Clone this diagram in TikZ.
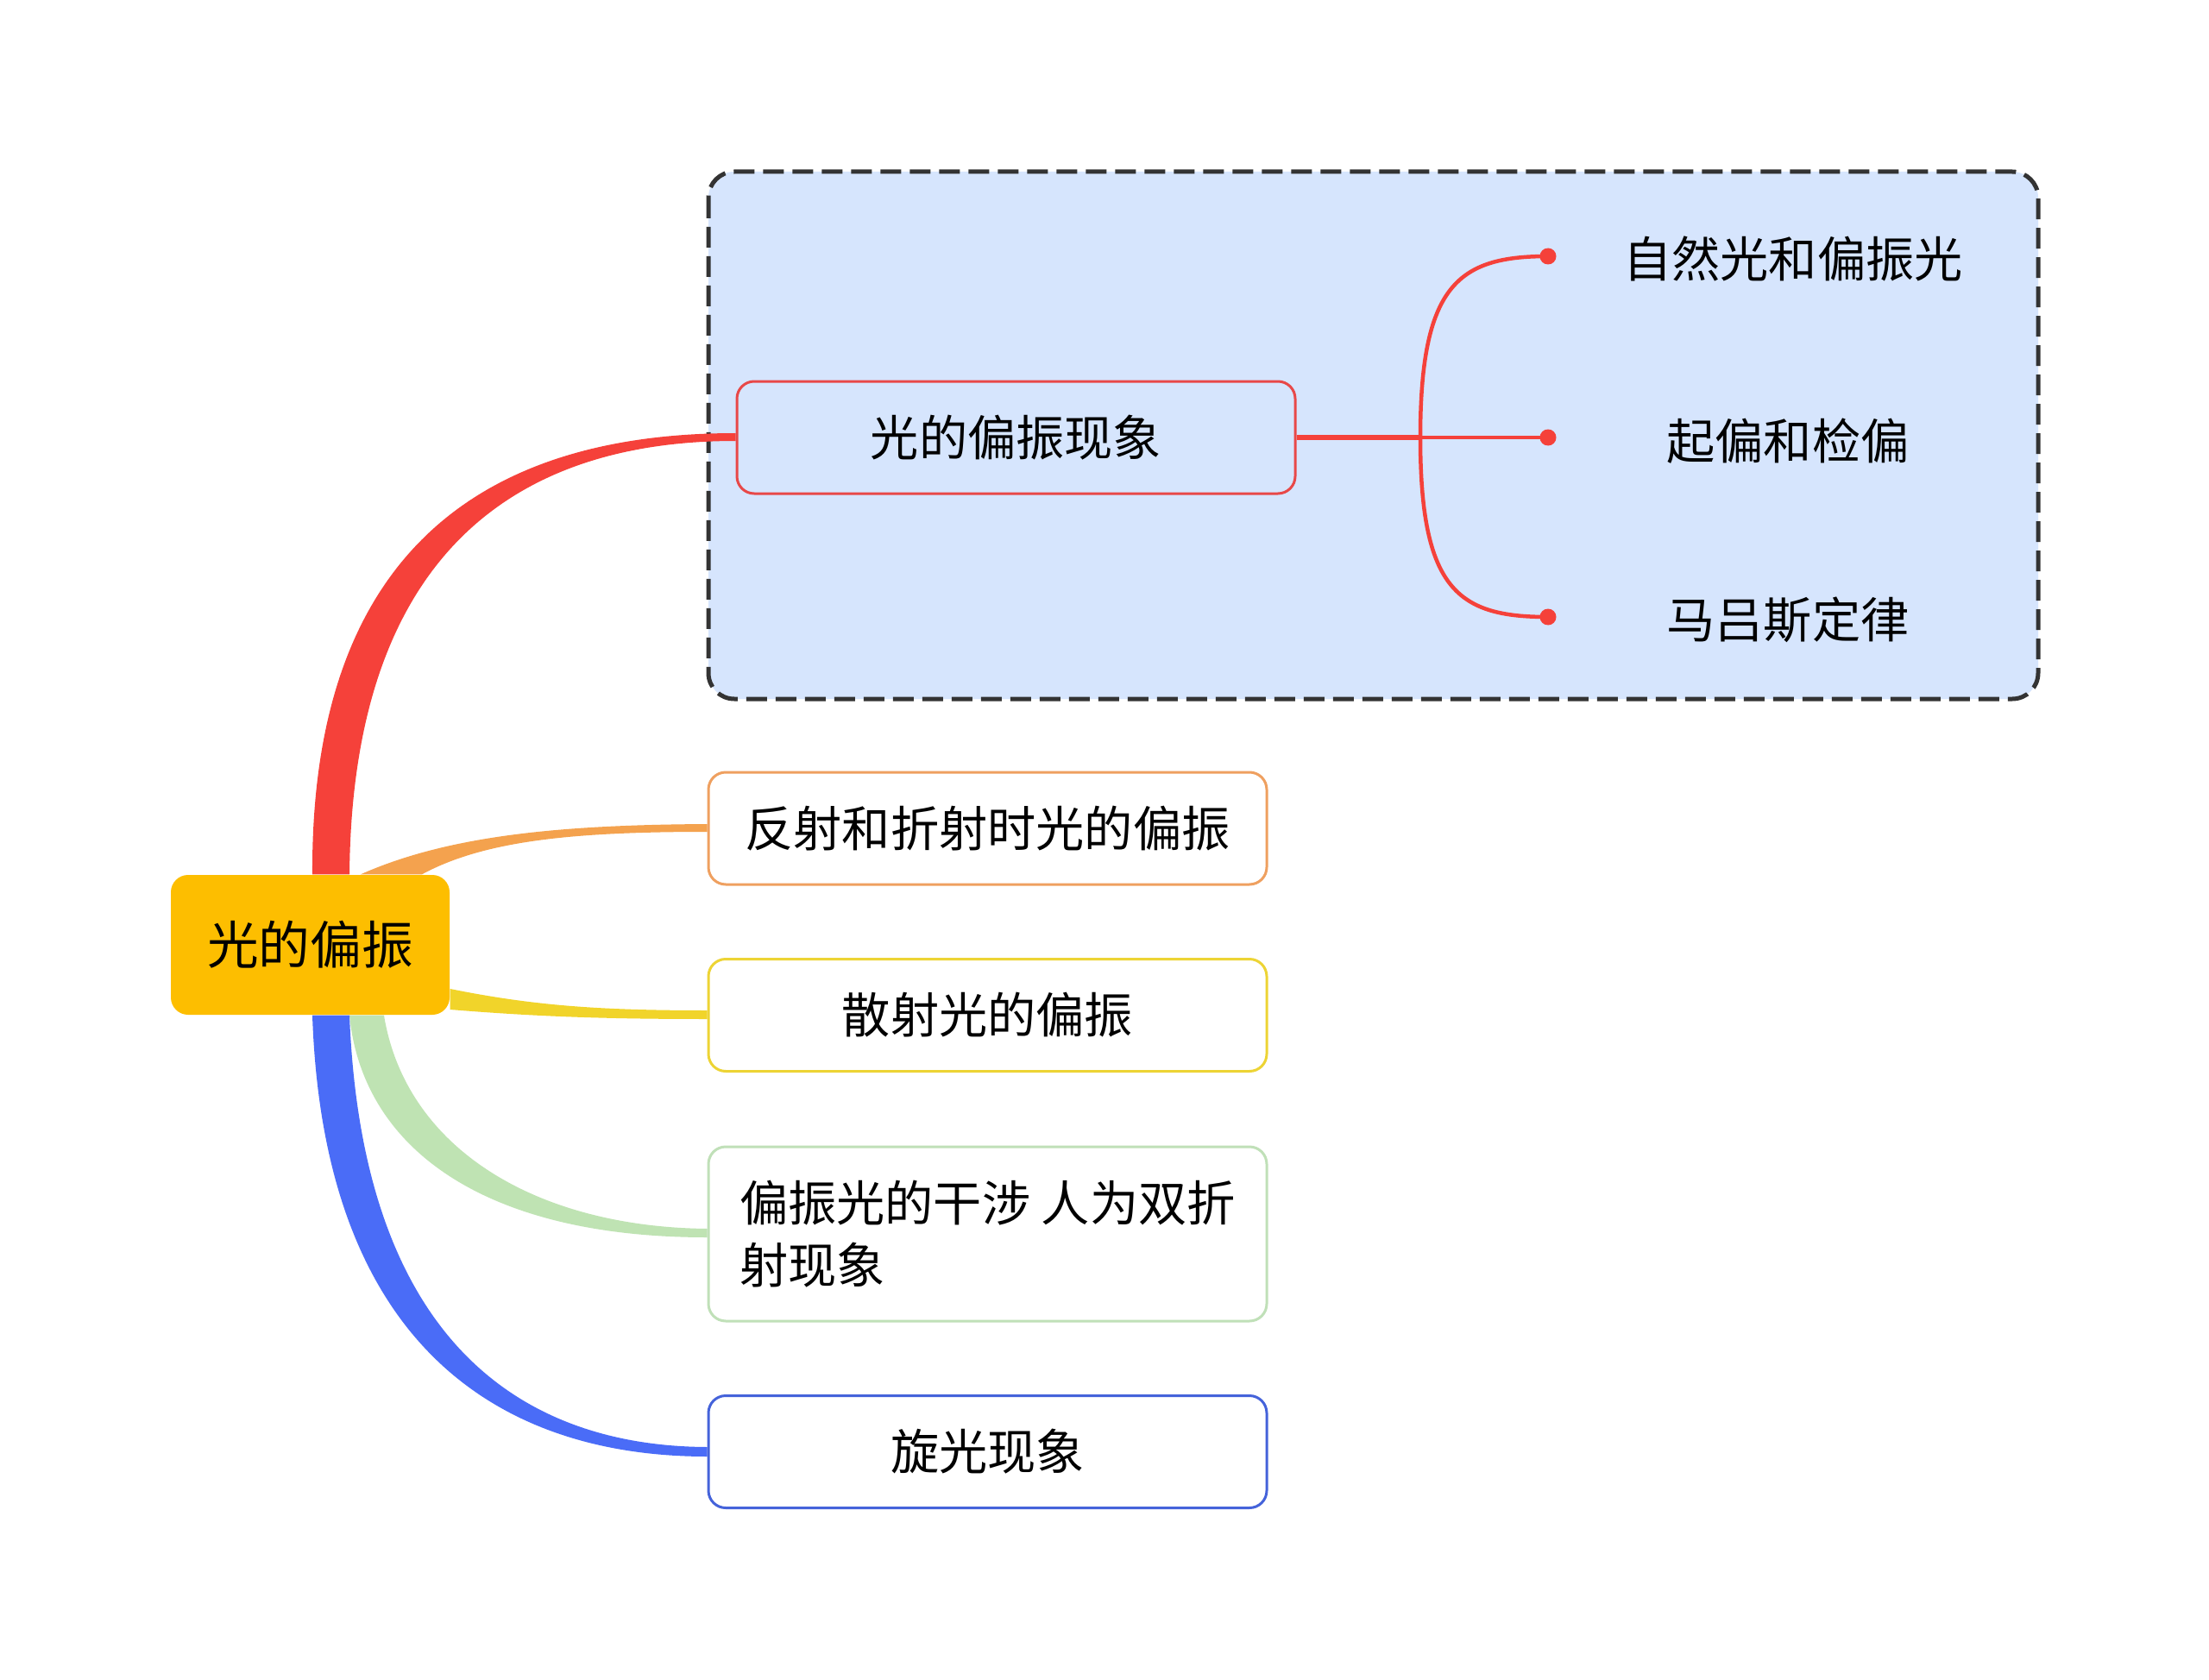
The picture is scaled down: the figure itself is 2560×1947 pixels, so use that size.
\documentclass[tikz,border=0pt]{standalone}
\usepackage{fontspec}
\newfontfamily\cjk{Noto Sans CJK SC}
\pgfdeclarelayer{back}
\pgfdeclarelayer{bg}
\pgfsetlayers{back,bg,main}
\definecolor{cRoot}{HTML}{FDBE00}
\definecolor{cGroup}{HTML}{D6E5FD}
\definecolor{cFrame}{HTML}{333333}
\definecolor{cRed}{HTML}{F5413A}
\definecolor{cRedB}{HTML}{E84848}
\definecolor{cOrange}{HTML}{F4A24E}
\definecolor{cOrangeB}{HTML}{EFA060}
\definecolor{cYellow}{HTML}{F1D42A}
\definecolor{cYellowB}{HTML}{EDD435}
\definecolor{cGreen}{HTML}{BFE3B3}
\definecolor{cGreenB}{HTML}{C0E0B8}
\definecolor{cBlue}{HTML}{4A6CF7}
\definecolor{cBlueB}{HTML}{4563DA}
\begin{document}
\begin{tikzpicture}[x=0.1mm,y=-0.1mm,
  root/.style={fill=cRoot, rounded corners=2mm, minimum width=32.3mm, minimum height=16.2mm, inner sep=0pt, font=\cjk\fontsize{17}{20}\selectfont},
  kid/.style={draw, line width=0.3mm, fill=white, rounded corners=2mm, minimum width=64.7mm, minimum height=13mm, inner sep=0pt, font=\cjk\fontsize{16}{20.7}\selectfont},
  leaf/.style={inner sep=0pt, font=\cjk\fontsize{16}{20}\selectfont},
  dot/.style={circle, fill=cRed, inner sep=0pt, minimum size=1.9mm},
  subline/.style={draw=cRed, line width=0.45mm},
  groupbox/.style={draw=cFrame, fill=cGroup, line width=0.5mm, dash pattern=on 2.4mm off 1mm, rounded corners=3mm}
]
\useasboundingbox (0,0) rectangle (2560,1947);

% page background and group frame
\begin{pgfonlayer}{back}
\fill[white] (0,0) rectangle (2560,1947);
\draw[groupbox] (821,199) rectangle (2362,810);
\end{pgfonlayer}

% nodes
\node[root] (c) at (359.5,1095) {光的偏振};
\node[kid, draw=cRedB, fill=cGroup] (p1) at (1177.5,507) {光的偏振现象};
\node[kid, draw=cOrangeB] (p2) at (1144.5,960) {反射和折射时光的偏振};
\node[kid, draw=cYellowB] (p3) at (1144.5,1176.5) {散射光的偏振};
\node[kid, draw=cGreenB, minimum height=20.2mm, align=left] (p4) at (1144.5,1430) {偏振光的干涉 人为双折\\射现象};
\node[kid, draw=cBlueB] (p5) at (1144.5,1682.5) {旋光现象};

\node[leaf] (q1) at (2078,300) {自然光和偏振光};
\node[leaf] (q2) at (2072,511) {起偏和检偏};
\node[leaf] (q3) at (2072,718) {马吕斯定律};

\node[dot] (d1) at (1794,297) {};
\node[dot] (d2) at (1794,507) {};
\node[dot] (d3) at (1794,715) {};
\coordinate (br) at (1646,507);

% tapered main branches
\begin{pgfonlayer}{bg}
\fill[cRed] (c.north -| 362,0) .. controls (360,640) and (560,502) .. (p1.west |- 0,502)
  -- (p1.west |- 0,511) .. controls (590,511) and (408,650) .. (c.north -| 405,0) -- cycle;
\fill[cOrange] (c.north -| 418,0) .. controls (520,968) and (650,956) .. (p2.west |- 0,955)
  -- (p2.west |- 0,964) .. controls (660,964) and (560,975) .. (c.north -| 489,0) -- cycle;
\fill[cYellow] (c.east |- 0,1146) .. controls (620,1166) and (700,1171) .. (p3.west |- 0,1171)
  -- (p3.west |- 0,1181) .. controls (700,1181) and (620,1178) .. (c.east |- 0,1170) -- cycle;
\fill[cGreen] (c.south -| 405,0) .. controls (420,1330) and (560,1434) .. (p4.west |- 0,1434)
  -- (p4.west |- 0,1424) .. controls (620,1422) and (470,1330) .. (c.south -| 445,0) -- cycle;
\fill[cBlue] (c.south -| 362,0) .. controls (375,1560) and (580,1688) .. (p5.west |- 0,1688)
  -- (p5.west |- 0,1677) .. controls (610,1676) and (420,1560) .. (c.south -| 405,0) -- cycle;
\end{pgfonlayer}

% sub branches
\draw[subline, line width=0.55mm] (p1.east) -- (br);
\draw[subline] (br) -- (d2.center);
\draw[subline] (br) .. controls (1646,330) and (1690,297) .. (d1.center);
\draw[subline] (br) .. controls (1646,684) and (1690,715) .. (d3.center);
\end{tikzpicture}
\end{document}
